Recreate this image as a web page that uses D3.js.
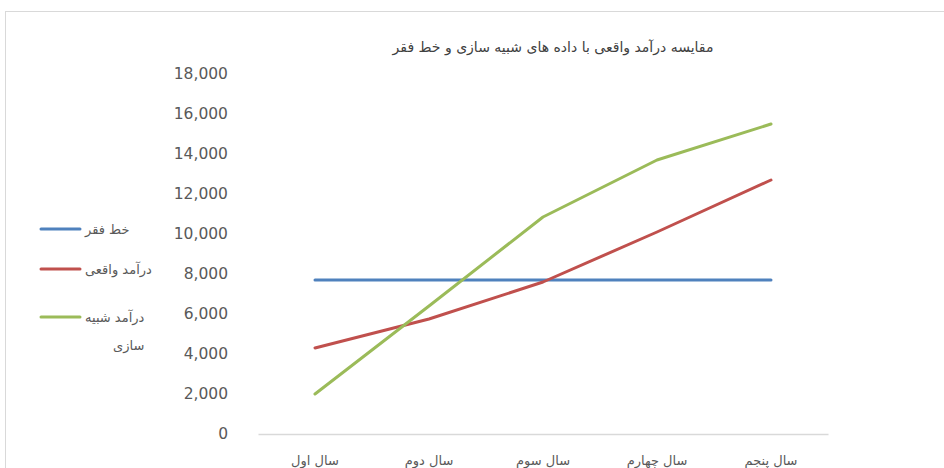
<!DOCTYPE html>
<html>
<head>
<meta charset="utf-8">
<script src="https://cdn.jsdelivr.net/npm/d3@7"></script>
<style>
  body { margin: 0; background: #fff; }
  svg { display: block; }
</style>
</head>
<body>
<svg id="mainsvg" width="944" height="468"></svg>
<script>
const categories = ['سال اول', 'سال دوم', 'سال سوم', 'سال چهارم', 'سال پنجم'];
const povertyLine = [7700, 7700, 7700, 7700, 7700];
const realIncome = [4300, 5750, 7600, 10100, 12700];
const simIncome = [2000, 6400, 10850, 13700, 15500];
const yTicks = [0, 2000, 4000, 6000, 8000, 10000, 12000, 14000, 16000, 18000];
const seriesNames = ['خط فقر', 'درآمد واقعی', 'درآمد شبیه سازی'];
const title = 'مقایسه درآمد واقعی با داده های شبیه سازی و خط فقر';

const series = [
  {name: seriesNames[0], values: povertyLine, color: '#4f81bd'},
  {name: seriesNames[1], values: realIncome, color: '#c0504d'},
  {name: seriesNames[2], values: simIncome, color: '#9bbb59'}
];

const svg = d3.select('#mainsvg');
const arabicFont = '"DejaVu Sans", sans-serif';
const numFont = '"DejaVu Sans", sans-serif';

// chart frame
svg.append('rect')
  .attr('x', 5.5).attr('y', 11.5)
  .attr('width', 960).attr('height', 480)
  .attr('fill', 'none').attr('stroke', '#d9d9d9');

const margin = {top: 74, left: 258, right: 828, bottom: 434};

const xScale = d3.scaleBand()
  .domain(categories)
  .range([margin.left, margin.right]);

const yScale = d3.scaleLinear()
  .domain([0, 18000])
  .range([margin.bottom, margin.top]);

// y axis labels
const yAxis = d3.axisLeft(yScale)
  .tickValues(yTicks)
  .tickFormat(d3.format(','))
  .tickSize(0)
  .tickPadding(0);
const yg = svg.append('g').attr('transform', 'translate(228,0)').call(yAxis);
yg.select('.domain').remove();
yg.selectAll('.tick text')
  .attr('font-family', numFont)
  .attr('font-size', '15.5px')
  .attr('fill', '#595959');

// x axis
const xAxis = d3.axisBottom(xScale).tickSize(0).tickPadding(0);
const xg = svg.append('g').attr('transform', `translate(0, ${margin.bottom})`).call(xAxis);
xg.select('.domain').attr('stroke', '#d9d9d9').attr('stroke-width', 1.5);
xg.selectAll('.tick text')
  .attr('font-family', arabicFont)
  .attr('font-size', '13px')
  .attr('fill', '#595959')
  .attr('dy', 0)
  .attr('y', 31)
  .attr('direction', 'rtl');

// lines
const line = d3.line()
  .x((d, i) => xScale(categories[i]) + xScale.bandwidth() / 2)
  .y(d => yScale(d));

series.forEach(s => {
  svg.append('path')
    .attr('d', line(s.values))
    .attr('fill', 'none')
    .attr('stroke', s.color)
    .attr('stroke-width', 3)
    .attr('stroke-linecap', 'round')
    .attr('stroke-linejoin', 'round');
});

// title
svg.append('text')
  .text(title)
  .attr('x', 553).attr('y', 52)
  .attr('text-anchor', 'middle')
  .attr('direction', 'rtl')
  .attr('font-family', arabicFont)
  .attr('font-size', '14px')
  .attr('fill', '#404040');

// legend
const legendY = [229, 269, 317];
series.forEach((s, i) => {
  const lg = svg.append('g');
  lg.append('line')
    .attr('x1', 41).attr('x2', 80)
    .attr('y1', legendY[i]).attr('y2', legendY[i])
    .attr('stroke', s.color).attr('stroke-width', 3)
    .attr('stroke-linecap', 'round');
  const words = s.name.split(' ');
  const lines = words.length > 2 ? [words.slice(0, 2).join(' '), words.slice(2).join(' ')] : [s.name];
  const texts = lines.map((t, j) => lg.append('text')
    .text(t)
    .attr('y', legendY[i] + 5 + j * 28)
    .attr('font-family', arabicFont)
    .attr('font-size', '13px')
    .attr('fill', '#595959')
    .attr('direction', 'rtl')
    .attr('text-anchor', 'start'));
  const w0 = texts[0].node().getComputedTextLength();
  const right = 85 + w0;
  texts.forEach(t => t.attr('x', right));
});
</script>
</body>
</html>
